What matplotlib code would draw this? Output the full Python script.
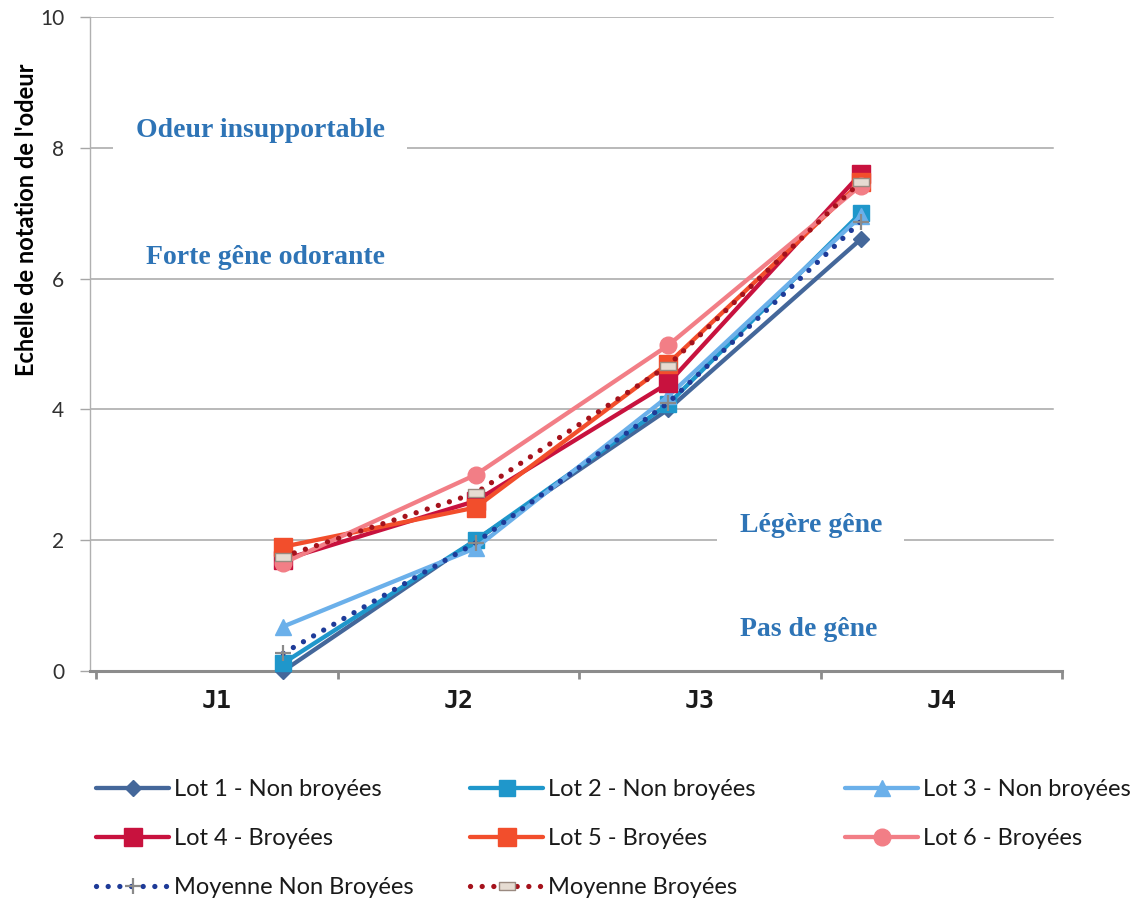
import matplotlib
matplotlib.use("Agg")
import matplotlib.pyplot as plt

# ---- data -------------------------------------------------------------
days = ["J1", "J2", "J3", "J4"]

lot1_non_broyees = [0.0, 2.0, 4.0, 6.6]
lot2_non_broyees = [0.12, 2.0, 4.08, 7.0]
lot3_non_broyees = [0.68, 1.88, 4.2, 6.95]
lot4_broyees = [1.7, 2.6, 4.4, 7.6]
lot5_broyees = [1.9, 2.5, 4.7, 7.47]
lot6_broyees = [1.65, 3.0, 4.98, 7.42]
moyenne_non_broyees = [0.27, 1.96, 4.1, 6.87]
moyenne_broyees = [1.75, 2.72, 4.67, 7.48]

scale_labels = ["Odeur insupportable", "Forte gêne odorante", "Légère gêne", "Pas de gêne"]

# ---- figure -----------------------------------------------------------
W, H = 1147, 900
fig = plt.figure(figsize=(W / 100, H / 100), dpi=100)
ax = fig.add_axes([90 / W, 1 - 671 / H, (1062 - 90) / W, (671 - 17) / H])

ax.set_xlim(-0.025, 4.0)
ax.set_ylim(0, 10)

# points sit between the category boundaries
x0, dx = 0.775, 0.797
xs = [x0 + i * dx for i in range(len(days))]

lw = 3.1
series = [
    ("Lot 1 - Non broyées", lot1_non_broyees, dict(color="#44679A", marker="D", ms=8)),
    ("Lot 2 - Non broyées", lot2_non_broyees, dict(color="#1F97CB", marker="s", ms=11)),
    ("Lot 3 - Non broyées", lot3_non_broyees, dict(color="#6BB0EA", marker="^", ms=11)),
    ("Lot 4 - Broyées", lot4_broyees, dict(color="#C8123E", marker="s", ms=12.5)),
    ("Lot 5 - Broyées", lot5_broyees, dict(color="#F24E2C", marker="s", ms=12.5)),
    ("Lot 6 - Broyées", lot6_broyees, dict(color="#F27E86", marker="o", ms=12)),
]

handles = {}
for name, vals, st in series:
    (h,) = ax.plot(xs, vals, color=st["color"], lw=lw, marker=st["marker"],
                   ms=st["ms"], mfc=st["color"], mec=st["color"],
                   solid_capstyle="round", clip_on=False, zorder=3)
    handles[name] = h

dot_style = dict(lw=3.8, linestyle=(0, (0.01, 2.2)), dash_capstyle="round",
                 clip_on=False, zorder=4)
rect_marker = [(-1, -0.45), (1, -0.45), (1, 0.45), (-1, 0.45), (-1, -0.45)]
(h_mnb,) = ax.plot(xs, moyenne_non_broyees, color="#1E3B98", marker="+", ms=11,
                   mec="#8A8A8A", mew=1.6, **dot_style)
(h_mb,) = ax.plot(xs, moyenne_broyees, color="#A5121C", marker=rect_marker, ms=12,
                  mfc="#E6DCD2", mec="#9A8A80", mew=1.0, **dot_style)
handles["Moyenne Non Broyées"] = h_mnb
handles["Moyenne Broyées"] = h_mb

# ---- axes styling -----------------------------------------------------
grid_c = "#A6A6A6"
for s in ["top", "right"]:
    ax.spines[s].set_visible(False)
ax.spines["left"].set_color("#B0B0B0")
ax.spines["left"].set_linewidth(1.0)
ax.spines["bottom"].set_color("#8C8C8C")
ax.spines["bottom"].set_linewidth(2.2)

yt = [0, 2, 4, 6, 8, 10]
ax.set_yticks(yt)
ax.set_yticklabels([str(v) for v in yt], fontsize=15, color="#303030",
                   fontfamily="Lato")
ax.tick_params(axis="y", length=7.5, width=1.0, color=grid_c, pad=11)
for v in yt[1:]:
    ax.axhline(v, xmin=0, xmax=(1053 - 90) / (1062 - 90), color=grid_c, lw=1.1, zorder=0)

ax.set_xticks([0, 1, 2, 3, 4])
ax.set_xticklabels([])
ax.tick_params(axis="x", length=6, width=2.0, color="#8C8C8C", direction="out")
ax.set_xticks([0.5, 1.5, 2.5, 3.5], minor=True)
ax.set_xticklabels(days, minor=True, fontsize=18, fontweight="bold",
                   fontfamily="DejaVu Sans Mono", color="#1A1A1A")
ax.tick_params(axis="x", which="minor", length=0, pad=13)

ax.set_ylabel("Echelle de notation de l'odeur", fontsize=17, fontweight="bold",
              fontfamily="Lato", color="#000000")
ax.yaxis.set_label_coords(-0.053, 0.69)

# ---- scale annotations ------------------------------------------------
txt_c = "#2E74B6"
box = dict(boxstyle="square,pad=0.3", fc="white", ec="none")
ann = dict(fontsize=20, fontweight="bold", fontfamily="Liberation Serif",
           color=txt_c, zorder=2, va="center")
ax.text(0.68, 8.26, "  " + scale_labels[0] + "  ", ha="center", bbox=box, **ann)
ax.text(0.70, 6.33, "  " + scale_labels[1] + "  ", ha="center", bbox=box, **ann)
ax.text(2.96, 2.23, "  " + scale_labels[2] + "  ", ha="center", bbox=box, **ann)
ax.text(2.95, 0.63, scale_labels[3], ha="center", **ann)

# ---- legend (three columns, filled row by row) ------------------------
order = ["Lot 1 - Non broyées", "Lot 2 - Non broyées", "Lot 3 - Non broyées",
         "Lot 4 - Broyées", "Lot 5 - Broyées", "Lot 6 - Broyées",
         "Moyenne Non Broyées", "Moyenne Broyées"]
col_x = [96, 470, 845]
for c in range(3):
    names = order[c::3]
    leg = fig.legend([handles[n] for n in names], names, loc="upper left",
                     bbox_to_anchor=(col_x[c] / W, 1 - 779 / H), frameon=False,
                     borderpad=0, borderaxespad=0, handlelength=3.1,
                     handletextpad=0.2, labelspacing=1.19,
                     prop=dict(family="Lato", size=17))
    for t in leg.get_texts():
        t.set_color("#1A1A1A")

fig.savefig("out.png", dpi=100)
